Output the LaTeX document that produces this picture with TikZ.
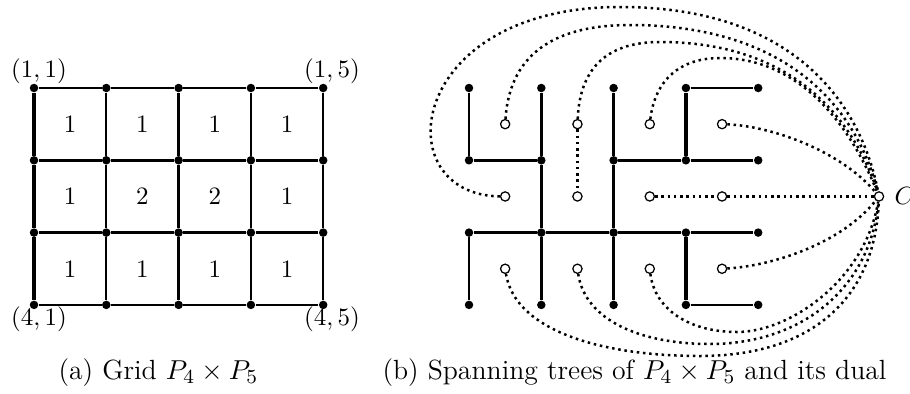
\documentclass[tikz,border=0pt]{standalone}
\usetikzlibrary{backgrounds}
\begin{document}
\begin{tikzpicture}[x=0.4pt,y=-0.4pt,
  gv/.style={circle,fill,inner sep=0pt,minimum size=3.4pt},
  dv/.style={circle,draw,line width=0.5pt,inner sep=0pt,minimum size=3.7pt,fill=white,
    path picture={\fill (path picture bounding box.center) circle (0.6pt);}},
  thinedge/.style={line width=0.95pt},
  thickedge/.style={line width=1.4pt},
  dualedge/.style={line width=1pt,dash pattern=on 1pt off 1.5pt},
  cellnum/.style={inner sep=0pt},
  cornerlbl/.style={inner sep=0pt},
  caption/.style={inner sep=0pt,anchor=base west,font=\fontsize{11.1}{13}\selectfont}]
\useasboundingbox (0,0) rectangle (910,393);

% ---------- (a) grid ----------
\foreach \i in {1,...,4}
  \foreach \j in {1,...,5}
    \node[gv] (v\i\j) at ({34+72.3*(\j-1)},{88+72.3*(\i-1)}) {};

% thin edges
\foreach \i in {1,3,4}
  \foreach \j/\k in {1/2,2/3,3/4,4/5}
    \draw[thinedge] (v\i\j) -- (v\i\k);
\foreach \j in {2,...,5}
  \foreach \i/\k in {1/2,2/3,3/4}
    \draw[thinedge] (v\i\j) -- (v\k\j);
% thick edges
\foreach \j/\k in {1/2,2/3,3/4,4/5}
  \draw[thickedge] (v2\j) -- (v2\k);
\foreach \i/\k in {1/2,2/3,3/4}
  \draw[thickedge] (v\i1) -- (v\k1);

% cell numbers
\foreach \i/\j/\n in {1/1/1,1/2/1,1/3/1,1/4/1,2/1/1,2/2/2,2/3/2,2/4/1,3/1/1,3/2/1,3/3/1,3/4/1}
  \node[cellnum] (c\i\j) at ({70.15+72.3*(\j-1)},{124.15+72.3*(\i-1)}) {\n};

\node[cornerlbl] (l11) at (39,71) {$(1,1)$};
\node[cornerlbl] (l15) at (332,71) {$(1,5)$};
\node[cornerlbl] (l41) at (39,319) {$(4,1)$};
\node[cornerlbl] (l45) at (332,319) {$(4,5)$};

% ---------- (b) spanning tree and dual ----------
\foreach \i in {1,...,4}
  \foreach \j in {1,...,5}
    \node[gv] (w\i\j) at ({469+72.3*(\j-1)},{88+72.3*(\i-1)}) {};

% thin tree edges
\draw[thinedge] (w11) -- (w21);
\draw[thinedge] (w31) -- (w41);
\draw[thinedge] (w13) -- (w23) -- (w33) -- (w43);
\draw[thinedge] (w31) -- (w32) -- (w33) -- (w34) -- (w35);
\draw[thinedge] (w14) -- (w15);
\draw[thinedge] (w44) -- (w45);
% thick tree edges
\draw[thickedge] (w12) -- (w22) -- (w32) -- (w42);
\draw[thickedge] (w21) -- (w22);
\draw[thickedge] (w23) -- (w24) -- (w25);
\draw[thickedge] (w14) -- (w24);
\draw[thickedge] (w34) -- (w44);

% dual vertices
\foreach \i in {1,2,3}
  \foreach \j in {1,...,4}
    \node[dv] (d\i\j) at ({505.15+72.3*(\j-1)},{124.15+72.3*(\i-1)}) {};
\node[dv] (C) at (879,196.45) {};
\node[inner sep=0pt,anchor=west] (Clbl) at (894,196.45) {$C$};

\begin{scope}[on background layer]
  % straight dual edges
  \draw[dualedge] (d12) -- (d22);
  \draw[dualedge] (d23) -- (d24) -- (C);
  % top curves
  \draw[dualedge] (d21) .. controls (385,195) and (405,7) .. (620,7)
                        .. controls (800,7) and (862,110) .. (C);
  \draw[dualedge] (d11) .. controls (510,50) and (560,25) .. (630,25)
                        .. controls (790,25) and (857,110) .. (C);
  \draw[dualedge] (d12) .. controls (580,65) and (610,42) .. (660,42)
                        .. controls (790,42) and (852,115) .. (C);
  \draw[dualedge] (d13) .. controls (655,80) and (680,58) .. (720,58)
                        .. controls (800,58) and (850,125) .. (C);
  \draw[dualedge] (d14) .. controls (770,126) and (840,150) .. (C);
  % bottom curves
  \draw[dualedge] (d34) .. controls (770,266) and (840,245) .. (C);
  \draw[dualedge] (d33) .. controls (655,310) and (690,332) .. (737,332)
                        .. controls (790,332) and (865,280) .. (C);
  \draw[dualedge] (d32) .. controls (585,320) and (640,344) .. (710,344)
                        .. controls (800,344) and (870,290) .. (C);
  \draw[dualedge] (d31) .. controls (515,330) and (600,356) .. (700,356)
                        .. controls (810,356) and (875,300) .. (C);
\end{scope}

% captions
\node[caption] (capa) at (58,379) {(a) Grid $P_4\times P_5$};
\node[caption] (capb) at (382,379) {(b) Spanning trees of $P_4\times P_5$ and its dual};
\end{tikzpicture}
\end{document}
